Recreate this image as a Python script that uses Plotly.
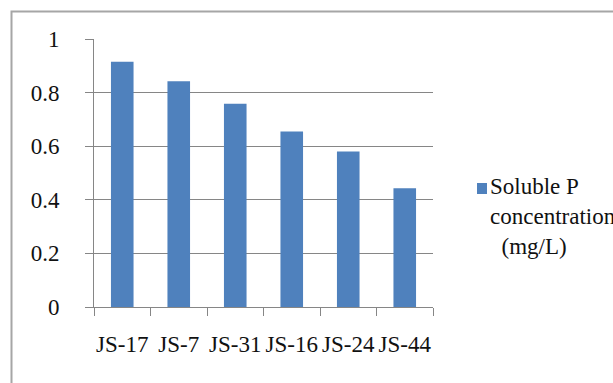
import plotly.graph_objects as go

# Soluble phosphorus released by each isolate
isolates = ["JS-17", "JS-7", "JS-31", "JS-16", "JS-24", "JS-44"]
soluble_p = [0.915, 0.842, 0.758, 0.655, 0.580, 0.443]
series_name = "Soluble P concentration (mg/L)"
y_ticks = [0, 0.2, 0.4, 0.6, 0.8, 1]
y_tick_text = ["0", "0.2", "0.4", "0.6", "0.8", "1"]

FONT = "Liberation Serif"
FONT_SIZE = 23
TEXT = "#111111"
BAR = "#4F81BD"
GRID = "#868686"

W, H = 613, 383
L, R, T, B = 94, 433, 39, 307  # plot area in pixels
pw, ph = R - L, B - T


def px(x):
    return (x - L) / pw


def py(y):
    return (B - y) / ph


fig = go.Figure(
    go.Bar(
        x=isolates,
        y=soluble_p,
        name=series_name,
        marker=dict(color=BAR, line=dict(width=0)),
        showlegend=False,
    )
)

fig.update_layout(
    width=W,
    height=H,
    margin=dict(l=L, r=W - R, t=T, b=H - B, autoexpand=False),
    paper_bgcolor="white",
    plot_bgcolor="white",
    bargap=0.6,
    font=dict(family=FONT, size=FONT_SIZE, color=TEXT),
)

fig.update_yaxes(
    range=[0, 1],
    tickvals=y_ticks,
    ticktext=y_tick_text,
    tickfont=dict(family=FONT, size=FONT_SIZE, color=TEXT),
    showgrid=True,
    gridcolor=GRID,
    gridwidth=1,
    showline=True,
    linecolor=GRID,
    linewidth=1,
    ticks="outside",
    ticklen=8,
    tickcolor=GRID,
    ticklabelstandoff=21,
    zeroline=False,
    fixedrange=True,
)

fig.update_xaxes(
    tickfont=dict(family=FONT, size=FONT_SIZE, color=TEXT),
    showline=True,
    linecolor=GRID,
    linewidth=1,
    ticks="outside",
    tickson="boundaries",
    ticklen=8,
    tickcolor=GRID,
    tickangle=0,
    ticklabelstandoff=16,
    showgrid=False,
    fixedrange=True,
)

# Chart-area border
fig.add_shape(
    type="rect",
    xref="paper", yref="paper",
    x0=px(11.5), x1=px(640), y0=py(11.5), y1=py(400),
    line=dict(color="#A6A6A6", width=2),
    fillcolor="rgba(0,0,0,0)",
    layer="below",
)

# Legend swatch and label
fig.add_shape(
    type="rect",
    xref="paper", yref="paper",
    x0=px(477), x1=px(487), y0=py(194), y1=py(183),
    line=dict(width=0),
    fillcolor=BAR,
)
label_lines = ["Soluble P", "concentration", "&nbsp;&nbsp;(mg/L)"]
fig.add_annotation(
    xref="paper", yref="paper",
    x=px(488), y=py(172),
    xanchor="left", yanchor="top",
    align="left",
    showarrow=False,
    text="<br>".join(label_lines),
    font=dict(family=FONT, size=FONT_SIZE, color=TEXT),
)

fig.write_html("out.html")
